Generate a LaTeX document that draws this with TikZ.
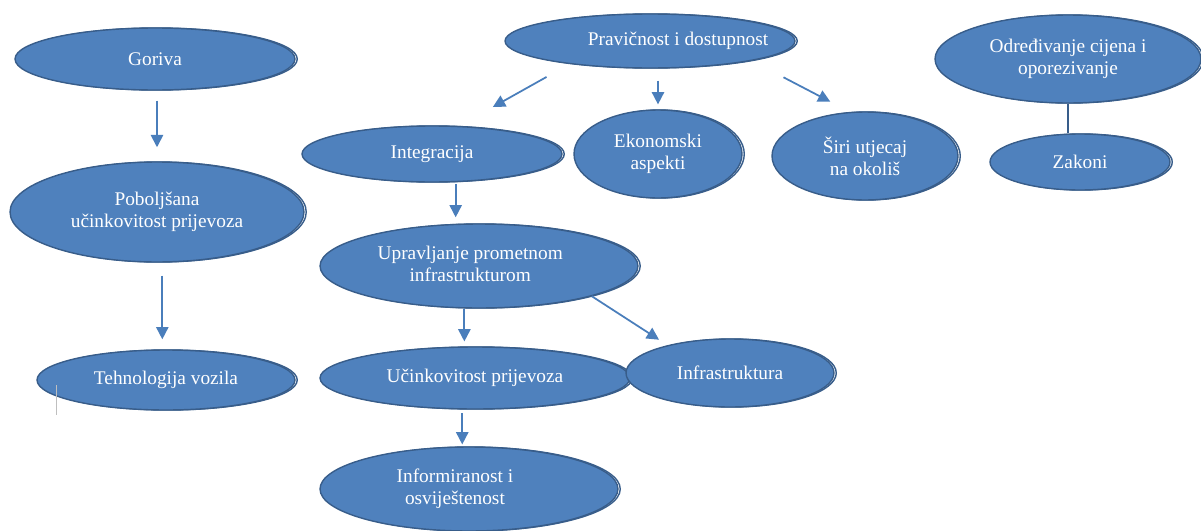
\documentclass[tikz,border=0pt]{standalone}
\usepackage{fontspec}
\setmainfont{Liberation Serif}
\usetikzlibrary{shapes.geometric, arrows.meta}
\definecolor{ovalblue}{HTML}{4F81BD}
\definecolor{ovaledge}{HTML}{385D8A}
\definecolor{arrowblue}{HTML}{4A7EBB}

\begin{document}
\begin{tikzpicture}[x=0.02cm, y=-0.02cm, line width=1pt,
    oval/.style={ellipse, fill=ovalblue, draw=ovaledge, line width=0.8pt, inner sep=0pt,
        text=white, align=center, font=\fontsize{11}{12.5}\selectfont,
        preaction={draw=ovaledge, line width=0.8pt, transform canvas={xshift=1.3pt}}},
    link/.style={draw=arrowblue, line width=1pt, -{Triangle[width=7pt, length=7pt]}}]
    \useasboundingbox (0,0) rectangle (1201,531);

    \node[oval, minimum width=5.6cm, minimum height=1.24cm] (gor) at (155,59) {Goriva};
    \node[oval, minimum width=5.88cm, minimum height=2cm] (pob) at (157,212) {Poboljšana\\učinkovitost prijevoza};
    \node[oval, minimum width=5.16cm, minimum height=1.2cm] (tech) at (166,380) {Tehnologija vozila};

    \node[oval, minimum width=5.8cm, minimum height=1.08cm] (prav) at (650,41) {\makebox[0pt]{\hspace{32pt}Pravičnost i dostupnost}};
    \node[oval, minimum width=5.2cm, minimum height=1.12cm] (integ) at (432,154) {Integracija};
    \node[oval, minimum width=3.36cm, minimum height=1.76cm] (ekon) at (658,154) {Ekonomski\\aspekti};
    \node[oval, minimum width=3.72cm, minimum height=1.76cm] (siri) at (865,156) {Širi utjecaj\\na okoliš};
    \node[oval, minimum width=6.36cm, minimum height=1.68cm] (upr) at (479,266) {\raisebox{3pt}{\makebox[0pt]{\hspace{-10pt}\begin{tabular}{@{}c@{}}Upravljanje prometnom\\infrastrukturom\end{tabular}}}};
    \node[oval, minimum width=6.2cm, minimum height=1.24cm] (ucink) at (475,378) {Učinkovitost prijevoza};
    \node[oval, minimum width=4.16cm, minimum height=1.36cm] (infra) at (730,373) {Infrastruktura};
    \node[oval, minimum width=5.96cm, minimum height=1.68cm] (inform) at (469,489) {\makebox[0pt]{\hspace{-16pt}\begin{tabular}{@{}c@{}}Informiranost i\\osviještenost\end{tabular}}};

    \node[oval, minimum width=5.32cm, minimum height=1.76cm] (odr) at (1068,59) {Određivanje cijena i\\oporezivanje};
    \node[oval, minimum width=3.6cm, minimum height=1.12cm] (zak) at (1080,162) {Zakoni};

    \draw[link, shorten <=5.7pt, shorten >=8pt] (gor.south -| pob.north) -- (pob.north);
    \draw[link, shorten <=7.4pt, shorten >=5.7pt] (pob.276.8) -- (pob.276.8 |- tech.95.7);

    \draw[link, shorten <=15pt, shorten >=22pt] (prav.196) -- (integ.46);
    \draw[link, shorten <=6.8pt, shorten >=2.8pt] (prav.south -| ekon.north) -- (ekon.north);
    \draw[link, shorten <=20.3pt, shorten >=12.5pt] (prav.349) -- (siri.109);
    \draw[link, shorten <=1pt, shorten >=3.7pt] (integ.310) -- (integ.310 |- upr.120);
    \draw[link, shorten >=2.8pt] (upr.251.5) -- (upr.251.5 |- ucink.107.9);
    \draw[link, shorten >=5.7pt] (upr.345) -- (infra.156);
    \draw[link, shorten <=1.8pt, shorten >=1.1pt] (ucink.248.8) -- (ucink.248.8 |- inform.98.1);

    \draw[draw=ovaledge, line width=1pt] (odr.south) -- (odr.south |- zak.north);

    \draw[gray!50, line width=0.5pt] (56,385) -- (56,415);
\end{tikzpicture}
\end{document}
